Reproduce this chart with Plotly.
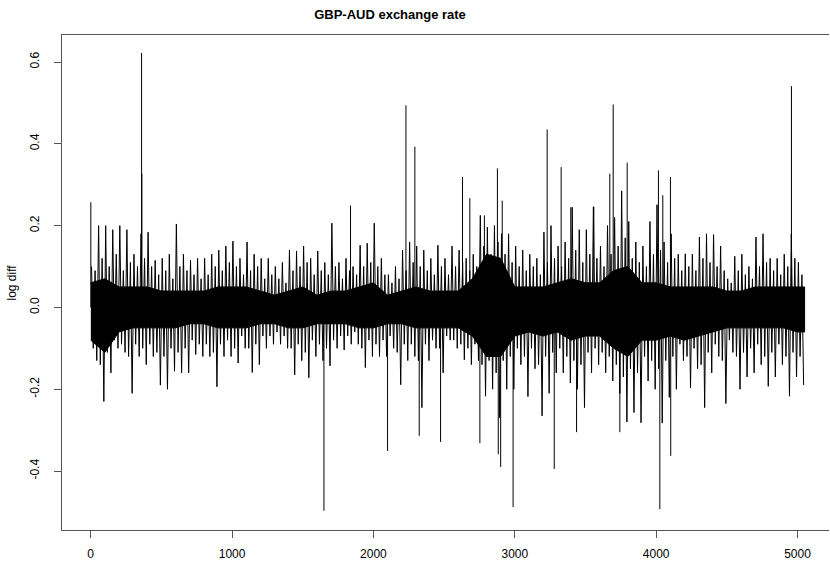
import numpy as np
import plotly.graph_objects as go

# ---- data (GBP-AUD daily log differences) ----
# 50-day bins starting at 0, 50, ..., 5000
bin_start = list(range(0, 5050, 50))
# largest up / down move seen in each bin
fringe_hi = [0.10, 0.20, 0.20, 0.19, 0.20, 0.19, 0.13, 0.18, 0.184, 0.115, 0.12, 0.13, 0.204, 0.13, 0.115, 0.12,
             0.12, 0.13, 0.14, 0.15, 0.162, 0.12, 0.16, 0.13, 0.12, 0.12, 0.10, 0.11, 0.14, 0.138, 0.15, 0.12, 0.138,
             0.11, 0.206, 0.11, 0.12, 0.10, 0.152, 0.157, 0.206, 0.12, 0.08, 0.10, 0.14, 0.16, 0.15, 0.14, 0.12, 0.152,
             0.12, 0.15, 0.14, 0.12, 0.13, 0.225, 0.196, 0.20, 0.18, 0.18, 0.15, 0.14, 0.13, 0.12, 0.184, 0.20, 0.15,
             0.16, 0.245, 0.19, 0.19, 0.246, 0.15, 0.20, 0.22, 0.285, 0.21, 0.16, 0.15, 0.21, 0.251, 0.16, 0.18, 0.13,
             0.131, 0.13, 0.172, 0.18, 0.178, 0.15, 0.07, 0.125, 0.13, 0.10, 0.172, 0.18, 0.12, 0.12, 0.13, 0.18, 0.11]
fringe_lo = [-0.13, -0.23, -0.16, -0.10, -0.11, -0.21, -0.12, -0.14, -0.12, -0.19, -0.20, -0.156, -0.16, -0.16, -0.115, -0.12,
             -0.12, -0.194, -0.12, -0.12, -0.136, -0.10, -0.159, -0.14, -0.10, -0.09, -0.09, -0.10, -0.165, -0.13, -0.172, -0.12, -0.13,
             -0.143, -0.10, -0.104, -0.09, -0.09, -0.147, -0.12, -0.12, -0.12, -0.10, -0.189, -0.13, -0.12, -0.245, -0.13, -0.10, -0.16,
             -0.08, -0.10, -0.128, -0.14, -0.13, -0.217, -0.20, -0.27, -0.20, -0.20, -0.14, -0.218, -0.15, -0.265, -0.21, -0.16, -0.16,
             -0.185, -0.20, -0.245, -0.16, -0.14, -0.16, -0.18, -0.21, -0.28, -0.257, -0.282, -0.18, -0.20, -0.283, -0.22, -0.20, -0.13,
             -0.197, -0.15, -0.245, -0.16, -0.12, -0.235, -0.11, -0.20, -0.17, -0.16, -0.14, -0.193, -0.17, -0.14, -0.217, -0.17, -0.19]
# typical secondary moves in each bin
inner_hi = [0.09, 0.12, 0.10, 0.13, 0.09, 0.11, 0.10, 0.12, 0.10, 0.08, 0.09, 0.07, 0.10, 0.09, 0.08, 0.07,
            0.08, 0.10, 0.09, 0.11, 0.10, 0.08, 0.09, 0.10, 0.07, 0.08, 0.07, 0.06, 0.09, 0.10, 0.11, 0.08, 0.09,
            0.08, 0.10, 0.07, 0.09, 0.08, 0.10, 0.11, 0.10, 0.08, 0.06, 0.07, 0.09, 0.11, 0.10, 0.09, 0.08, 0.10,
            0.08, 0.10, 0.11, 0.09, 0.10, 0.15, 0.13, 0.16, 0.13, 0.11, 0.10, 0.09, 0.10, 0.08, 0.11, 0.12, 0.10,
            0.12, 0.14, 0.11, 0.13, 0.12, 0.10, 0.13, 0.15, 0.17, 0.12, 0.11, 0.10, 0.13, 0.14, 0.11, 0.12, 0.09,
            0.10, 0.09, 0.12, 0.11, 0.10, 0.09, 0.06, 0.09, 0.08, 0.07, 0.10, 0.11, 0.09, 0.08, 0.10, 0.12, 0.08]
inner_lo = [-0.10, -0.14, -0.11, -0.08, -0.09, -0.12, -0.09, -0.10, -0.09, -0.11, -0.12, -0.10, -0.11, -0.10, -0.08, -0.09,
            -0.09, -0.11, -0.09, -0.08, -0.10, -0.07, -0.10, -0.09, -0.07, -0.07, -0.06, -0.07, -0.10, -0.09, -0.11, -0.08, -0.09,
            -0.10, -0.08, -0.07, -0.07, -0.06, -0.10, -0.08, -0.09, -0.08, -0.07, -0.11, -0.09, -0.09, -0.13, -0.09, -0.08, -0.10,
            -0.07, -0.08, -0.09, -0.10, -0.09, -0.14, -0.13, -0.16, -0.13, -0.12, -0.10, -0.12, -0.10, -0.14, -0.12, -0.11, -0.10,
            -0.12, -0.13, -0.14, -0.11, -0.10, -0.11, -0.12, -0.14, -0.17, -0.15, -0.16, -0.12, -0.13, -0.15, -0.13, -0.12, -0.09,
            -0.12, -0.10, -0.14, -0.11, -0.09, -0.13, -0.08, -0.12, -0.11, -0.10, -0.09, -0.12, -0.11, -0.09, -0.12, -0.11, -0.12]

# dense core of the series (solid black band) every 100 days
band_day = [1] + list(range(100, 5001, 100)) + [5050]
band_hi = [0.06, 0.07, 0.05, 0.05, 0.05, 0.04, 0.04, 0.04, 0.04, 0.05, 0.05, 0.05, 0.04, 0.03, 0.04, 0.05, 0.03,
           0.04, 0.04, 0.05, 0.06, 0.03, 0.04, 0.05, 0.04, 0.04, 0.04, 0.07, 0.13, 0.12, 0.05, 0.05, 0.05, 0.06,
           0.07, 0.06, 0.06, 0.09, 0.10, 0.06, 0.06, 0.05, 0.05, 0.05, 0.05, 0.04, 0.04, 0.05, 0.05, 0.05, 0.05, 0.05]
band_lo = [-0.08, -0.11, -0.06, -0.05, -0.05, -0.05, -0.05, -0.04, -0.04, -0.05, -0.05, -0.05, -0.04, -0.04, -0.05,
           -0.05, -0.04, -0.04, -0.04, -0.05, -0.05, -0.04, -0.04, -0.05, -0.05, -0.05, -0.05, -0.07, -0.12, -0.12,
           -0.07, -0.06, -0.07, -0.06, -0.08, -0.07, -0.07, -0.10, -0.12, -0.08, -0.08, -0.07, -0.08, -0.07, -0.06,
           -0.05, -0.05, -0.05, -0.05, -0.05, -0.06, -0.06]

# isolated large moves
spike_day = [1, 360, 362, 1650, 1838, 2100, 2230, 2293, 2324, 2475, 2630, 2682, 2753, 2785, 2877, 2883, 2900,
             2911, 2988, 3229, 3279, 3328, 3396, 3437, 3559, 3672, 3696, 3743, 3795, 4016, 4026, 4047, 4101,
             4103, 4957]
spike_val = [0.257, 0.622, 0.327, -0.497, 0.249, -0.351, 0.494, 0.393, -0.314, -0.329, 0.319, 0.267, -0.332,
             0.225, 0.34, -0.359, -0.39, 0.261, -0.488, 0.435, -0.395, 0.343, 0.245, -0.305, 0.246, 0.327, 0.496,
             -0.305, 0.354, 0.335, -0.493, 0.274, 0.319, -0.363, 0.541]

x_ticks = [0, 1000, 2000, 3000, 4000, 5000]
y_ticks = [-0.4, -0.2, 0.0, 0.2, 0.4, 0.6]
y_tick_text = ["-0.4", "-0.2", "0.0", "0.2", "0.4", "0.6"]

# ---- build traces ----
zx, zy = [], []
for b, h, il, ih, l in zip(bin_start, fringe_hi, inner_lo, inner_hi, fringe_lo):
    zx += [b + 6, b + 18, b + 31, b + 43]
    zy += [h, il, ih, l]

sx, sy = [], []
for d, v in zip(spike_day, spike_val):
    sx += [d, d, None]
    sy += [0, v, None]

fig = go.Figure()
fig.add_trace(go.Scatter(x=band_day + band_day[::-1], y=band_hi + band_lo[::-1], fill="toself",
                         fillcolor="black", line=dict(color="black", width=1), mode="lines",
                         hoverinfo="skip", showlegend=False))
fig.add_trace(go.Scatter(x=zx, y=zy, mode="lines", line=dict(color="black", width=1), showlegend=False))
fig.add_trace(go.Scatter(x=sx, y=sy, mode="lines", line=dict(color="black", width=1), showlegend=False))

axis_col = "#555555"
fig.update_layout(
    width=830, height=562,
    margin=dict(l=62, r=1, t=35, b=29),
    paper_bgcolor="white", plot_bgcolor="white",
    font=dict(family="Liberation Sans, Arial, sans-serif", size=12, color="black"),
    title=dict(text="<b>GBP-AUD exchange rate</b>", x=390 / 830, xref="container", xanchor="center",
               y=1 - 14 / 562, yref="container", yanchor="middle", font=dict(size=13, color="black")),
    showlegend=False,
)
fig.update_xaxes(range=[-203, 5222.6], showgrid=False, zeroline=False, showline=True, mirror=True,
                 linecolor=axis_col, linewidth=1, ticks="outside", ticklen=7, tickcolor=axis_col,
                 tickvals=x_ticks, ticktext=[str(t) for t in x_ticks], ticklabelstandoff=6)
fig.update_yaxes(range=[-0.5442, 0.666], showgrid=False, zeroline=False, showline=True, mirror=False,
                 linecolor=axis_col, linewidth=1, ticks="outside", ticklen=7, tickcolor=axis_col,
                 tickvals=y_ticks, ticktext=y_tick_text, tickangle=-90, ticklabelstandoff=10)
fig.add_annotation(text="log diff", xref="paper", yref="paper", x=(11 - 62) / 767, y=0.5,
                   textangle=-90, showarrow=False, xanchor="center", yanchor="middle",
                   font=dict(size=12, color="black"))

fig.write_html("out.html",
               config={"displayModeBar": False, "staticPlot": True},
               post_script="document.body.style.margin='0';document.body.style.overflow='hidden';")
